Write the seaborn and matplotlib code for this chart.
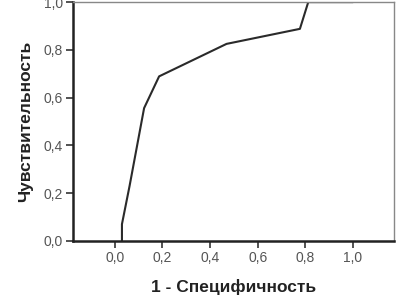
import matplotlib
matplotlib.use("Agg")
import matplotlib.pyplot as plt
import seaborn as sns
import pandas as pd

fpr = [0.03, 0.03, 0.062, 0.123, 0.186, 0.469, 0.777, 0.812, 1.0]
tpr = [0.0, 0.07, 0.23, 0.556, 0.689, 0.825, 0.888, 1.0, 1.0]
ticks = [0.0, 0.2, 0.4, 0.6, 0.8, 1.0]
tick_labels = ["0,0", "0,2", "0,4", "0,6", "0,8", "1,0"]

sns.set_theme(style="white")
plt.rcParams['font.family'] = ['Liberation Sans', 'DejaVu Sans']

fig = plt.figure(figsize=(3.96, 3.00), dpi=100)
ax = fig.add_axes([0.184, 0.197, 0.811, 0.796])

df = pd.DataFrame({"fpr": fpr, "tpr": tpr})
sns.lineplot(data=df, x="fpr", y="tpr", sort=False, estimator=None,
             color="#2a2a2a", linewidth=1.5, ax=ax)

ax.set_xlim(-0.176, 1.172)
ax.set_ylim(0, 1.0)
ax.set_xticks(ticks)
ax.set_xticklabels(tick_labels)
ax.set_yticks(ticks)
ax.set_yticklabels(tick_labels)
ax.tick_params(axis='both', which='both', direction='out', length=5, width=1.2,
               color="#333333", labelsize=10, labelcolor="#555555", pad=2,
               bottom=True, left=True)

for s in ['left', 'bottom']:
    ax.spines[s].set_color("#222222")
    ax.spines[s].set_linewidth(1.8)
for s in ['top', 'right']:
    ax.spines[s].set_color("#888888")
    ax.spines[s].set_linewidth(1.0)

ax.set_xlabel("1 - Специфичность", fontsize=12.5, fontweight='bold', color="#222222", labelpad=10)
ax.set_ylabel("Чувствительность", fontsize=12.5, fontweight='bold', color="#222222", labelpad=8)

fig.savefig("out.png", dpi=100)
